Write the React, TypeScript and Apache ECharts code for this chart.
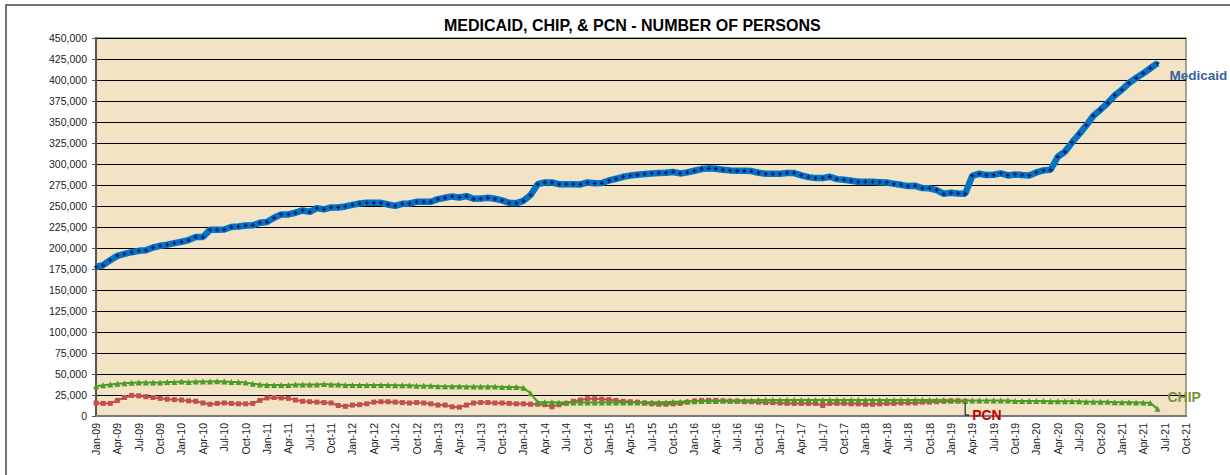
import React, { useEffect, useRef } from "react";
import * as echarts from "echarts";

const MONTHS = ["Jan", "Feb", "Mar", "Apr", "May", "Jun", "Jul", "Aug", "Sep", "Oct", "Nov", "Dec"];
const YEARS = ["09", "10", "11", "12", "13", "14", "15", "16", "17", "18", "19", "20", "21"];
const LAST_MONTH_INDEX = 153; // Oct-21

const CATEGORIES: string[] = [];
YEARS.forEach((y) => MONTHS.forEach((m) => CATEGORIES.push(`${m}-${y}`)));
CATEGORIES.length = LAST_MONTH_INDEX + 1;

const MEDICAID = [
  177500, 179500, 185500, 190600, 193000, 195000, 196600, 197400, 200600, 202600, 204000, 205800,
  207400, 209400, 213000, 213000, 221600, 221600, 222000, 225000, 225500, 226800, 227000, 230000,
  231000, 236000, 240000, 240000, 242000, 244700, 243000, 247500, 246000, 248300, 248300, 249500,
  251400, 253000, 253800, 253800, 253800, 251800, 250200, 252600, 253000, 255000, 255000, 255000,
  258200, 259800, 261400, 260200, 261800, 258600, 258800, 259800, 258600, 256600, 253800, 253400,
  256200, 263000, 276000, 278000, 278000, 276000, 276000, 276000, 275600, 278000, 277000, 277400,
  280400, 282400, 284800, 286200, 287200, 288000, 288800, 289200, 289600, 290400, 288800, 290000,
  292000, 294000, 294800, 294400, 293200, 292400, 292000, 292000, 291600, 289600, 288400, 288400,
  288400, 289200, 289200, 286400, 284400, 283200, 283200, 284800, 282000, 281200, 280000, 278800,
  278800, 278800, 278400, 278000, 276400, 275200, 273700, 274000, 271300, 271000, 269000, 264500,
  265700, 265000, 264500, 286000, 288400, 286800, 287200, 288800, 286400, 287600, 286800, 286400,
  290000, 292400, 293200, 308600, 314600, 325700, 335600, 346000, 357500, 364600, 372600, 381700,
  388400, 396400, 402400, 408000, 414000, 420000,
];

const CHIP = [
  35500, 36500, 37500, 38500, 39000, 39500, 40000, 40000, 40000, 40000, 40500, 40500,
  41000, 40500, 41000, 41000, 41000, 41500, 41000, 40500, 40500, 40000, 38500, 37500,
  37000, 37000, 37000, 37000, 37500, 37500, 37500, 37500, 38000, 37500, 37500, 37000,
  37000, 37000, 37000, 37000, 37000, 37000, 36500, 36500, 36500, 36000, 36000, 36000,
  35500, 35500, 35500, 35500, 35000, 35000, 35000, 35000, 35000, 34500, 34500, 34500,
  33500, 27000, 16500, 16500, 16500, 16000, 16000, 16000, 16000, 16000, 16000, 16000,
  16000, 16000, 16000, 16000, 16000, 16000, 16500, 16500, 16500, 17000, 17000, 17500,
  17500, 18000, 18000, 18000, 18500, 18500, 18500, 18500, 18500, 19000, 19000, 19000,
  19000, 19000, 19000, 19000, 19000, 19000, 19000, 19000, 19000, 19000, 19000, 19000,
  19000, 19000, 19000, 19000, 19000, 19000, 19000, 19000, 19000, 19000, 19000, 19000,
  18500, 18500, 18500, 18500, 18500, 18500, 18500, 18500, 18500, 18000, 18000, 18000,
  18000, 18000, 17500, 17500, 17500, 17500, 17500, 17000, 17000, 17000, 17000, 16500,
  16500, 16500, 16000, 16000, 15500, 8500,
];

const PCN = [
  15500, 15000, 15000, 18500, 22000, 24500, 24000, 23000, 22000, 21000, 20000, 19500,
  19000, 18000, 17500, 15500, 14000, 15000, 15500, 15000, 14500, 14500, 15000, 18500,
  21500, 22000, 21500, 21000, 19000, 17500, 17000, 16500, 16000, 15500, 12500, 11500,
  13000, 13500, 14500, 16500, 17000, 17000, 16500, 16000, 15500, 16000, 15500, 14500,
  13000, 13000, 11000, 10500, 13000, 15500, 16000, 16000, 15500, 15500, 15000, 14500,
  14500, 14000, 14000, 13500, 11000, 13500, 15000, 17500, 19000, 20500, 20500, 20000,
  19500, 18500, 17500, 17000, 16500, 15500, 14500, 14000, 14000, 14500, 15000, 16500,
  18000, 18500, 18500, 18500, 18000, 17500, 17500, 17000, 17000, 16500, 16000, 16000,
  15500, 15000, 15000, 15000, 15000, 15000, 12500, 15000, 15000, 15000, 14500, 14500,
  14000, 14000, 14500, 15000, 15000, 15500, 15500, 15500, 16500, 16500, 17000, 17500,
  18000, 18000, 17500,
];

const Y_MIN = 0;
const Y_MAX = 450000;
const Y_STEP = 25000;

const FONT = "'Liberation Sans', Arial, sans-serif";

export default function App() {
  const ref = useRef<HTMLDivElement>(null);

  useEffect(() => {
    document.body.style.margin = "0";
    if (!ref.current) return;
    const chart = echarts.init(ref.current, null, { renderer: "svg" });

    const frame = {
      id: "frame",
      type: "rect",
      shape: { x: 6, y: 5, width: 1400, height: 700 },
      style: { fill: "none", stroke: "#444", lineWidth: 1.5 },
      silent: true,
      z: -10,
    };

    chart.setOption({
      animation: false,
      backgroundColor: "#ffffff",
      textStyle: { fontFamily: FONT },
      title: {
        text: "MEDICAID, CHIP, & PCN - NUMBER OF PERSONS",
        left: 439,
        top: 12,
        textStyle: { fontFamily: FONT, fontSize: 16, fontWeight: "bold", color: "#000" },
      },
      grid: {
        left: 96,
        right: 44,
        top: 38,
        bottom: 59,
        show: true,
        backgroundColor: "#F1E3C3",
        borderColor: "#8f8771",
        borderWidth: 1.5,
      },
      xAxis: {
        type: "category",
        data: CATEGORIES,
        boundaryGap: false,
        axisLine: { lineStyle: { color: "#7a7a7a", width: 2 } },
        axisTick: { show: false },
        axisLabel: {
          interval: 2,
          rotate: 90,
          fontSize: 10.5,
          color: "#222",
          margin: 7,
          fontFamily: FONT,
        },
        splitLine: { show: false },
      },
      yAxis: {
        type: "value",
        min: Y_MIN,
        max: Y_MAX,
        interval: Y_STEP,
        axisLine: { show: true, lineStyle: { color: "#555", width: 2 } },
        axisTick: { show: true, length: 4, lineStyle: { color: "#555" } },
        axisLabel: {
          fontSize: 10.5,
          color: "#222",
          margin: 9,
          fontFamily: FONT,
          formatter: (v: number) => v.toLocaleString("en-US"),
        },
        splitLine: { show: true, lineStyle: { color: "#000", width: 1 } },
      },
      series: [
        {
          name: "PCN",
          type: "line",
          data: PCN,
          showAllSymbol: true,
          symbol: "rect",
          symbolSize: 5,
          lineStyle: { color: "#C0504D", width: 2 },
          itemStyle: { color: "#C0504D" },
          endLabel: {
            show: true,
            formatter: "PCN",
            position: "right",
            distance: 7,
            offset: [0, 14],
            color: "#C00000",
            fontSize: 14,
            fontWeight: "bold",
            fontFamily: FONT,
          },
          z: 2,
        },
        {
          name: "CHIP",
          type: "line",
          data: CHIP,
          showAllSymbol: true,
          symbol: "triangle",
          symbolSize: 6,
          lineStyle: { color: "#4E9A26", width: 2 },
          itemStyle: { color: "#4E9A26" },
          endLabel: {
            show: true,
            formatter: "CHIP",
            position: "right",
            distance: 10,
            offset: [0, -12],
            color: "#77933C",
            fontSize: 14,
            fontWeight: "bold",
            fontFamily: FONT,
          },
          z: 3,
        },
        {
          name: "Medicaid",
          type: "line",
          data: MEDICAID,
          showAllSymbol: true,
          symbol: "path://M1,0H2V1H3V2H2V3H1V2H0V1H1Z",
          symbolSize: 4,
          lineStyle: { color: "#0673C3", width: 6.5 },
          itemStyle: { color: "#001A70" },
          endLabel: {
            show: true,
            formatter: "Medicaid",
            position: "right",
            distance: 12,
            offset: [0, 12],
            color: "#3B62A3",
            fontSize: 13.5,
            fontWeight: "bold",
            fontFamily: FONT,
          },
          z: 4,
        },
      ],
      graphic: [frame],
    });

    const lastPcn = PCN.length - 1;
    const p = chart.convertToPixel({ xAxisIndex: 0, yAxisIndex: 0 }, [lastPcn, PCN[lastPcn]]) as number[];
    const b = chart.convertToPixel({ xAxisIndex: 0, yAxisIndex: 0 }, [lastPcn, 0]) as number[];
    if (p && b) {
      chart.setOption({
        graphic: [
          frame,
          {
            id: "pcnLeader",
            type: "polyline",
            shape: {
              points: [
                [p[0], p[1] + 2],
                [p[0], b[1] - 1],
                [p[0] + 4, b[1] - 1],
              ],
            },
            style: { stroke: "#000", lineWidth: 1, fill: "none" },
            silent: true,
            z: 10,
          },
        ],
      });
    }

    return () => chart.dispose();
  }, []);

  return <div ref={ref} style={{ width: 1230, height: 475 }} />;
}
